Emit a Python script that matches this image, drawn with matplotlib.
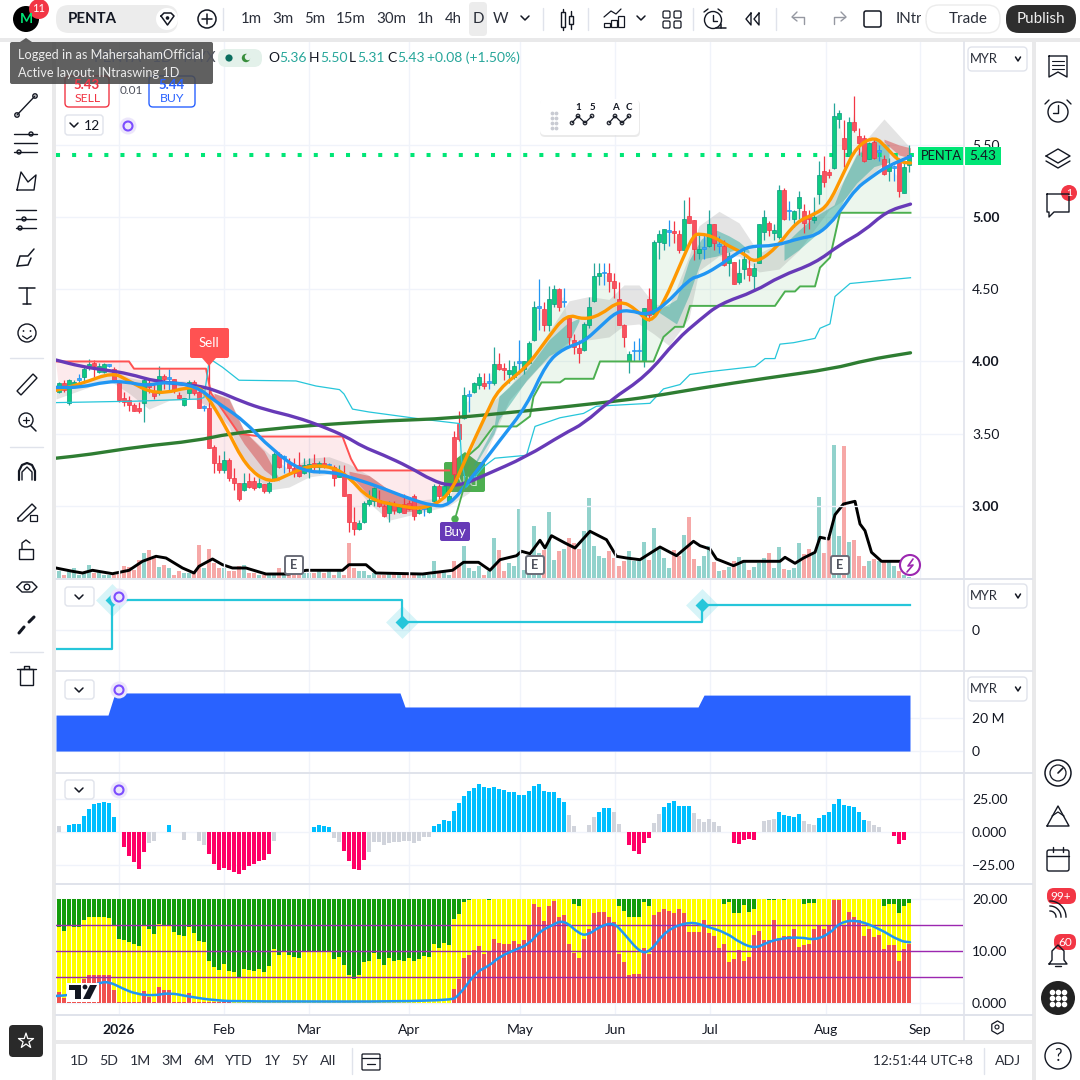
#!/usr/bin/env python3
"""PENTA daily chart, TradingView style, five panes plus the app chrome."""

import numpy as np
import matplotlib
matplotlib.use("Agg")
import matplotlib.pyplot as plt
from matplotlib.patches import FancyBboxPatch, Circle, Polygon, Rectangle, PathPatch
from matplotlib.path import Path

plt.rcParams["font.family"] = ["Lato", "Noto Sans", "DejaVu Sans"]

# candles, one row per ten bars
opens = [3.79,3.85,3.71,3.83,3.87,3.89,3.97,3.99,3.93,3.93,
         3.97,3.95,3.85,3.75,3.73,3.70,3.68,3.71,3.85,3.79,
         3.78,3.90,3.88,3.88,3.77,3.70,3.78,3.86,3.79,3.68,
         3.68,3.41,3.30,3.25,3.32,3.19,3.16,3.11,3.17,3.17,
         3.13,3.15,3.10,3.18,3.36,3.33,3.30,3.26,3.28,3.23,
         3.25,3.30,3.27,3.30,3.28,3.27,3.20,3.21,3.08,2.89,
         2.84,2.89,3.01,3.03,3.04,3.00,2.95,3.01,2.96,3.01,
         3.02,3.07,2.95,2.98,2.96,3.03,3.14,3.07,3.03,3.48,
         3.57,3.61,3.76,3.79,3.84,3.85,3.85,3.85,3.98,3.95,
         3.91,3.89,3.99,3.95,3.99,4.15,4.37,4.36,4.25,4.40,
         4.50,4.41,4.30,4.15,4.09,4.08,4.25,4.42,4.59,4.61,
         4.61,4.56,4.43,4.25,4.00,4.07,4.07,4.00,4.43,4.33,
         4.83,4.82,4.90,4.90,4.88,4.77,5.01,4.98,4.75,4.78,
         4.80,4.95,4.80,4.80,4.68,4.69,4.55,4.64,4.65,4.59,
         4.68,4.90,4.96,4.89,4.86,5.19,5.04,4.99,5.06,5.04,
         5.00,4.98,5.16,5.32,5.31,5.34,5.68,5.55,5.42,5.66,
         5.56,5.55,5.40,5.52,5.45,5.40,5.32,5.34,5.39,5.17,
         5.36]
highs = [3.86,3.87,3.88,3.87,3.91,3.96,4.02,4.01,3.99,3.99,
         3.98,3.96,3.86,3.79,3.76,3.71,3.72,3.89,3.88,3.85,
         3.97,3.91,3.95,3.88,3.79,3.75,3.87,3.87,3.81,3.70,
         4.02,3.42,3.35,3.38,3.33,3.26,3.16,3.23,3.23,3.20,
         3.19,3.15,3.17,3.37,3.37,3.35,3.33,3.33,3.37,3.33,
         3.33,3.36,3.31,3.34,3.30,3.28,3.28,3.28,3.08,2.99,
         2.90,3.03,3.11,3.13,3.11,3.01,3.03,3.03,3.01,3.08,
         3.04,3.08,3.00,3.00,3.00,3.15,3.15,3.16,3.13,3.52,
         3.66,3.82,3.80,3.86,3.92,3.92,3.92,4.10,4.06,3.99,
         4.01,4.00,4.15,4.00,4.14,4.42,4.57,4.41,4.52,4.53,
         4.51,4.51,4.31,4.19,4.15,4.27,4.45,4.68,4.68,4.68,
         4.68,4.61,4.55,4.26,4.07,4.14,4.16,4.37,4.51,4.84,
         4.91,4.92,4.98,4.97,4.91,5.12,5.14,4.98,4.89,4.89,
         5.05,4.95,4.87,4.84,4.76,4.69,4.71,4.79,4.72,4.68,
         4.95,5.05,4.97,4.95,5.22,5.20,5.11,5.05,5.18,5.09,
         5.05,5.14,5.39,5.42,5.33,5.79,5.74,5.67,5.69,5.84,
         5.62,5.57,5.52,5.54,5.50,5.43,5.41,5.36,5.41,5.39,
         5.50]
lows = [3.78,3.79,3.70,3.82,3.83,3.85,3.94,3.89,3.92,3.92,
        3.96,3.87,3.72,3.69,3.66,3.66,3.64,3.58,3.78,3.74,
        3.77,3.81,3.80,3.78,3.74,3.69,3.74,3.77,3.68,3.66,
        3.40,3.23,3.23,3.23,3.17,3.11,3.03,3.10,3.12,3.11,
        3.12,3.09,3.09,3.17,3.26,3.23,3.23,3.20,3.20,3.22,
        3.19,3.25,3.23,3.26,3.26,3.14,3.20,3.07,2.82,2.80,
        2.83,2.88,3.00,3.00,2.99,2.92,2.89,2.94,2.95,2.95,
        2.97,2.90,2.94,2.93,2.95,3.01,3.05,3.06,3.03,3.15,
        3.45,3.60,3.65,3.78,3.81,3.81,3.81,3.84,3.94,3.87,
        3.85,3.88,3.91,3.91,3.98,4.14,4.22,4.21,4.21,4.38,
        4.35,4.38,4.10,4.05,3.99,4.07,4.23,4.41,4.53,4.53,
        4.48,4.44,4.25,4.10,3.92,4.00,4.01,3.96,4.28,4.33,
        4.71,4.77,4.80,4.82,4.75,4.77,4.96,4.70,4.71,4.71,
        4.79,4.77,4.75,4.66,4.59,4.54,4.54,4.57,4.56,4.49,
        4.68,4.84,4.87,4.84,4.85,4.98,4.98,4.93,4.99,4.89,
        4.92,4.96,5.09,5.21,5.27,5.33,5.62,5.35,5.42,5.59,
        5.43,5.38,5.40,5.40,5.39,5.29,5.25,5.25,5.14,5.17,
        5.31]
closes = [3.85,3.80,3.87,3.86,3.87,3.95,3.98,3.97,3.97,3.98,
          3.97,3.87,3.73,3.72,3.70,3.66,3.66,3.87,3.82,3.76,
          3.90,3.88,3.88,3.80,3.75,3.75,3.86,3.78,3.68,3.68,
          3.40,3.30,3.25,3.32,3.19,3.16,3.05,3.16,3.13,3.12,
          3.16,3.10,3.16,3.36,3.27,3.33,3.26,3.23,3.21,3.28,
          3.29,3.27,3.30,3.27,3.28,3.19,3.23,3.07,2.89,2.84,
          2.88,3.02,3.04,3.12,3.00,2.93,3.02,2.97,2.99,2.95,
          2.98,2.93,2.97,2.98,2.99,3.14,3.07,3.14,3.07,3.22,
          3.46,3.77,3.76,3.85,3.89,3.83,3.85,3.98,3.95,3.94,
          3.94,3.97,3.99,4.00,4.13,4.38,4.37,4.25,4.43,4.50,
          4.38,4.41,4.17,4.10,4.06,4.26,4.38,4.59,4.61,4.61,
          4.56,4.51,4.25,4.17,4.05,4.07,4.07,4.37,4.32,4.83,
          4.88,4.92,4.90,4.89,4.77,4.99,4.96,4.78,4.78,4.78,
          4.95,4.82,4.80,4.67,4.73,4.54,4.61,4.71,4.60,4.65,
          4.95,5.00,4.91,4.91,5.19,4.99,5.04,5.04,5.14,4.96,
          4.99,5.00,5.29,5.24,5.29,5.70,5.72,5.47,5.66,5.60,
          5.51,5.39,5.51,5.41,5.45,5.30,5.36,5.34,5.18,5.35,
          5.43]
volume = [7,3,7,10,3,5,13,5,7,3, 3,3,5,12,11,8,18,25,28,22,
          11,13,10,3,7,5,5,5,33,10, 29,15,10,10,7,7,12,13,5,5,
          3,3,3,3,10,3,3,5,7,5, 5,5,8,5,7,3,7,3,35,10,
          7,7,3,5,3,3,5,5,5,3, 3,3,3,3,3,17,7,7,3,17,
          13,32,10,7,12,3,7,40,28,7, 15,12,69,8,22,52,25,28,66,18,
          27,29,40,35,29,47,80,32,22,20, 27,20,12,17,27,17,17,36,18,50,
          29,20,10,28,22,43,61,19,12,22, 32,16,7,8,11,17,21,17,8,11,
          15,20,25,10,31,9,8,10,35,24, 29,25,81,25,41,133,42,132,36,38,
          22,12,17,19,17,16,17,12,7,3, 1]

# moving averages, read at knots: bar number and price
purple_x = [-0.6,4.4,9.4,14,19.4,27.4,31.4,36.7,41.4,47.4,52.7,57.4,60.7,64.7,70,74.7,78,81,85,93.5,
            101,105,110.2,117.5,123.5,128.2,132.2,139.2,144.2,151.2,156.2,160.9,165.5,170.3]
purple_y = [4.01,3.965,3.94,3.915,3.86,3.835,3.80,3.72,3.665,3.615,3.55,3.48,3.41,3.355,3.27,3.175,3.14,3.15,3.21,3.34,
            3.50,3.57,3.73,3.90,4.15,4.29,4.40,4.485,4.59,4.68,4.81,4.90,5.04,5.09]
ma200_x = [-0.6,6,16,27.4,34,46,56,66,78,94.2,110.2,118.2,128.2,141.5,154.9,161.5,170.3]
ma200_y = [3.33,3.355,3.41,3.45,3.50,3.545,3.57,3.59,3.605,3.66,3.72,3.755,3.815,3.885,3.95,4.01,4.06]
blue_x = [-0.6,4.4,9.4,13.4,17.4,21.4,27.4,31.4,36.7,42.7,48.7,54.7,58,63.4,70,74.7,78,82.2,88.2,93.5,97.5,
          100.9,104.9,108.2,111.5,114.2,117.5,120.9,126.2,128.2,131.5,135.5,138.2,143.2,148.2,151.2,154.2,
          156.9,159.5,162.2,165.5,170.3]
blue_y = [3.82,3.82,3.86,3.86,3.83,3.86,3.83,3.72,3.60,3.385,3.235,3.235,3.20,3.14,3.05,3.00,3.00,3.18,3.455,3.69,3.99,
          4.09,4.135,4.24,4.345,4.355,4.32,4.38,4.575,4.59,4.65,4.75,4.80,4.80,4.855,4.87,4.95,
          5.075,5.20,5.27,5.35,5.42]
orange_x = [-0.6,4.4,10.7,13.7,19.4,27.4,29.4,33.4,37.4,42.1,46.1,50.1,54.7,58,62,68,72.7,78,81.5,85.5,87.9,93.5,97.5,
            101.5,104.9,108.2,112.2,115.5,118.2,120.9,124.9,126.9,128.2,130.9,133.9,136.9,139.2,143.2,147.5,151.2,
            153.9,156.9,159.5,163.2,165.5,168.2,170.3]
orange_y = [3.80,3.845,3.925,3.87,3.765,3.835,3.775,3.545,3.27,3.155,3.22,3.28,3.27,3.20,3.045,3.00,2.975,3.06,3.34,3.64,3.81,3.96,4.15,
            4.33,4.29,4.32,4.425,4.36,4.26,4.40,4.725,4.875,4.885,4.865,4.80,4.75,4.68,4.775,4.97,5.02,
            5.085,5.305,5.49,5.56,5.48,5.38,5.375]
cyan_x = [-0.6,15.4,28,29,30.1,32.7,36,47.4,51.4,56.1,57,58.7,62,72.7,80.1,80.5,81.5,84.9,87.2,93.5,95.2,100.2,104.9,
          107.5,118.2,120.9,124.2,126.2,130.2,139.2,141.2,143.2,144.2,146.9,151.2,152.2,154.2,155.2,158.2,170.3]
cyan_y = [3.715,3.725,3.74,3.75,4.02,3.96,3.87,3.865,3.83,3.805,3.775,3.67,3.65,3.60,3.57,3.32,3.13,3.27,3.33,3.35,3.55,3.61,3.64,
          3.69,3.71,3.81,3.84,3.91,3.93,3.965,4.02,4.02,4.12,4.13,4.16,4.23,4.26,4.45,4.54,4.58]

# trend stops
stop_dn_x = [-0.6,14,15,29.4,30.4,36,40.4,56.7,58.4,59.7,78]
stop_dn_y = [4.00,4.00,3.95,3.95,3.78,3.50,3.48,3.48,3.325,3.245,3.245]
stop_up_x = [79.9,83.9,86.9,91.5,94.2,94.9,96.5,100.2,101.2,106.9,108.2,118.9,120.9,123.2,124.9,126.2,
             143.2,145.2,147.2,148.2,151.2,152.2,154.2,156.2,170.3]
stop_up_y = [3.29,3.41,3.55,3.55,3.62,3.755,3.855,3.855,3.88,3.88,4.00,4.00,4.17,4.24,4.24,4.385,
             4.385,4.485,4.485,4.52,4.52,4.65,4.72,5.03,5.03]

# cloud around the averages
grey_x = [-0.6,5,10,14,18,22,27,31,34,37,42,46,50,54,58,62,66,72,78,82,86,90,96,102,106,110,113,116,119,122,126,128,132,136,140,144,148,154,157,160,165,170]
grey_hi = [3.84,3.85,3.95,3.89,3.86,3.87,3.86,3.78,3.75,3.52,3.36,3.25,3.33,3.34,3.29,3.21,3.11,3.04,3.06,3.34,3.70,3.82,4.10,4.42,4.45,4.43,4.53,4.53,4.40,4.38,4.73,4.94,5.04,4.96,4.75,4.82,4.99,5.10,5.26,5.48,5.68,5.49]
grey_lo = [3.74,3.81,3.87,3.78,3.67,3.73,3.74,3.67,3.55,3.29,3.11,3.13,3.20,3.22,3.18,3.02,2.90,2.95,3.00,3.09,3.41,3.73,3.96,4.14,4.15,4.17,4.25,4.26,4.19,4.11,4.30,4.63,4.73,4.73,4.62,4.64,4.77,5.05,5.12,5.22,5.37,5.41]
red1_x = [31,34,37,41,44]
red1_hi = [3.78,3.74,3.52,3.38,3.19]
red1_lo = [3.76,3.60,3.43,3.25,3.17]
red2_x = [58,62,66,70,74]
red2_hi = [3.24,3.21,3.11,3.05,3.00]
red2_lo = [3.22,3.07,2.96,2.96,2.98]
red3_x = [165,168,170.3]
red3_hi = [5.54,5.50,5.48]
red3_lo = [5.52,5.43,5.41]
teal1_x = [83,87,88,93.5,98,101.5,104]
teal1_hi = [3.29,3.55,3.76,3.94,4.15,4.26,4.30]
teal1_lo = [3.27,3.50,3.60,3.87,4.04,4.10,4.28]
teal2_x = [120,123.5,126,128.5,131.5,134,136,138]
teal2_hi = [4.36,4.43,4.70,4.85,4.91,4.87,4.83,4.77]
teal2_lo = [4.34,4.26,4.46,4.71,4.73,4.76,4.78,4.75]
teal3_x = [145,148,151,155,157,159.5,163,166]
teal3_hi = [4.81,4.91,5.00,5.085,5.26,5.43,5.535,5.50]
teal3_lo = [4.70,4.775,4.865,4.98,5.12,5.235,5.35,5.38]

# black line over the volume bars
volma_x = [-0.6,2.7,4.7,6.7,10.7,14,16.7,19.4,21.4,24.7,27,28,30.7,32.7,34.7,37.4,41.4,46,49.4,56.7,58,61.4,63.4,72.7,78.7,
           80.9,83.9,86.2,88.2,91.5,92.5,94.2,96.2,97.2,98.5,101.2,103.2,106.2,109.5,111.5,113.5,116.2,120.2,123.5,126.9,
           128.2,130.2,131.5,134.9,136.9,144.2,145.2,147.2,148.9,151.2,152.2,153.9,155.2,156.9,159.2,160.2,161.2,162.5,164.5,168.2]
volma_y = [10,6.7,5,7.7,4.3,7.7,16.7,21.7,20,10,5,11.7,19,13.3,10,10,4,4,7.7,7.7,13.3,13.3,5,4,7.7,
           15.7,15.7,7.7,18.3,22.3,26.7,24.3,37.7,30,42.3,35,30,46.7,38.3,21.7,20,18.3,31,22.3,36.7,
           32.3,29,19,12.3,16.7,16.7,20.7,14.7,20,25.7,40.7,39,63.3,74,76.7,54,47.3,25.7,16.7,16.7]

# second pane: signal steps
signal_x = [-0.6,10.6,68.6,128.6,170.2]
signal_y = [-19,30,8,25,25]
signal_marks_x = [10.6,68.6,128.6]
signal_marks_y = [30,8,25]

# third pane: blue area, millions
area_x = [-0.6,9.8,11.2,68.2,69.2,127.8,129,170.2]
area_y = [21.8,21.8,35.2,35.2,26.7,26.7,33.9,33.9]

# fourth pane: histogram
hist = [4.8,0,5.5,6.3,6.3,12.4,17.7,21.5,22,23,
        22,11.6,0,-11.6,-18,-23,-28,-15,-8,-6.5,
        0,0,5.5,0,0,-5.8,0,0,-6.5,-9.6,
        -17,-24,-28.5,-27,-28.5,-30,-31.5,-28.5,-25.5,-24,
        -21.7,-21,-17,-6.5,0,0,0,0,0,0,
        0,4,5.5,4.8,4,-4.3,-7.3,-14,-21.7,-27.8,
        -28.5,-21,-15,-7.3,-7.3,-9.6,-8,-7.3,-7.3,-6.5,
        -6.5,-8,-6.5,-3.5,-3.5,4.8,6.3,9.3,8.6,16,
        22,27.5,31,33.5,36.6,34.3,33.5,34.3,32.8,32,
        30.5,30.5,28.3,28.3,31.3,35,36.6,31.3,30.5,30.5,
        26,23,13,4.8,0,0,5.5,11.6,15.4,18.4,
        18.4,15.4,6.3,0,-9.6,-14,-17,-8,-4.3,7,
        13.9,19,22,23.7,20,20,20,14.6,10,7.8,
        10,7.8,4.8,0,0,-8,-8.8,-5.8,-5,-5.8,
        0,8.6,9.4,10.1,15.4,13.1,12.4,11.6,13.9,8.6,
        6.3,5.5,10.9,13.1,15.4,21.5,25.3,20.8,20,18.6,
        15.4,9.3,8.6,5.5,4,0,0,-3.3,-8.8,-5.8,
        0]
hist_weak = [0,18,19,25,28,29,43,55,56,62,63,64,65,66,67,68,69,70,71,72,73,74,
             102,103,106,107,111,112,119,120,127,128,129,130,131,132,141,142,143,
             149,150,151,162,163,164]

# fifth pane: stacked red, yellow, green up to 20
red_top = [2,0.9,2,0.9,0.9,4.5,5.2,5.2,5.2,5.2,
           5.2,2.4,.1,.1,.1,.1,.1,2.2,1,.1,
           3,2.4,2.4,.1,.1,.1,1.8,.1,.1,.1,
           .1,.1,.1,.1,.1,0,0,0,0,0,
           0,0,0,0,0,0,0,0,0,0, 0,0,0,0,0,0,0,0,0,0,
           0,0,0,0,0,0,0,0,0,0, 0,0,0,0,0,0,0,0,0,2.6,
           4.5,8.6,9.2,10.1,10.9,9.4,9.7,12.2,11.4,11.3,
           11.3,11.8,11.3,12,14.7,19,18.4,15.6,18.6,19.6,
           16.5,16.9,11.3,9.6,8.6,12.2,14.1,17.3,17.5,17.5,
           16.4,15.4,9.4,7.7,5.2,5.4,5.4,10.5,9.4,16.9,
           17.5,18,17.7,17.3,17.9,17.3,13.5,13.5,13.5,15.8,
           13.3,12.8,10.5,11.3,7.7,8.4,10.1,8,8.8,13,
           13.7,12,12,15.8,12.4,12.8,12.8,14.1,10.7,11.1,
           11.3,14.1,15,14.1,15,19.7,19.7,15,17.5,16.4,
           15.8,12.8,14.1,12.6,13,10.3,11.1,11.1,8,10.3,
           11.3]
yellow_top = [14.5,13.7,14.8,14.5,14.5,15.9,16.5,16.5,16.4,16.4,
              16.2,14.7,12.2,12,11.6,11.3,10.9,14.7,14.1,13.1,
              15.2,15,15,13.5,13,12.8,14.5,13.3,11.8,11.6,
              8,6.9,6.2,7.5,6,5.8,4.7,6.4,6.2,6,
              6.5,5.8,7.1,10.3,9.2,9.9,9.2,8.8,8.6,9.9,
              9.9,9.9,9.9,9.9,9.7,8.4,8.8,7.3,5.2,4.5,
              5.2,7.7,8,9.6,8.4,7.3,8.6,8,8.2,8,
              8.6,7.9,8.4,9,8.8,11.3,10.5,11.4,11.1,16,
              17.1,19.4,19.7,20,20,20,19.7,20,20,20,
              20,20,20,20,20,20,20,20,20,20,
              20,20,20,19,18.6,20,20,20,20,20,
              20,20,18.6,17.7,16.5,16.5,16.5,19.4,18.6,20,
              20,20,20,20,20,20,20,20,20,20,
              20,20,20,19,19.4,17.3,17.3,18.8,17.5,18,
              20,20,19.7,19.7,20,19.7,20,20,20,19,
              19.2,19.2,20,20,20,20,20,20,20,20,
              20,20,20,20,20,18.6,19,19,17.3,18.6,
              19.2]
band_levels = [5, 10, 15]
flow_x = [-0.6,2.4,5.4,8.1,10.1,12.7,15.4,19,22,26,31.4,36.7,78.1,80.1,83.4,86.1,88.2,91.5,93.9,96.2,98.2,100.9,104.2,105.9,
          108.2,110.9,112.9,116.2,118.2,121.5,126.2,129.5,133.5,136.2,139.2,141.5,144.2,148.2,151.2,154.2,156.2,159.5,163.9,168.2,170.2]
flow_y = [1.26,1.45,2.7,3.84,3.97,2.7,1.64,1.3,1.9,1.13,.38,.19,.19,1.45,5.85,7.1,8.87,10.25,11.2,13.7,14.65,16,13.05,13.05,
          14.65,15.4,13.4,9.6,9.75,14,15.6,14.65,13.4,11.5,10.4,11.5,12.3,12.6,12,13.3,15.4,15.9,14.3,11.8,11.6]

# time axis
month_bars = [12, 33, 50, 70, 92.3, 111.3, 130.3, 153.4, 172.2]
month_labels = ["2026", "Feb", "Mar", "Apr", "May", "Jun", "Jul", "Aug", "Sep"]
price_ticks = [3.0, 3.5, 4.0, 4.5, 5.0, 5.5]
ranges = ["1D", "5D", "1M", "3M", "6M", "YTD", "1Y", "5Y", "All"]
intervals = ["1m", "3m", "5m", "15m", "30m", "1h", "4h", "D", "W"]

GRID = "#f0f3fa"
SEP = "#e0e3eb"
INK = "#131722"
UP_WICK, DN_WICK, UP_BODY, DN_BODY = "#26a69a", "#f23645", "#0ecb81", "#f7525f"

fig = plt.figure(figsize=(10.8, 10.8), dpi=100, facecolor="#e9e9ea")
xs = np.arange(len(closes))
XMIN, XMAX = -0.6, 180.8


def pane(top, bottom, ymin, ymax, z=2):
    ax = fig.add_axes([56 / 1080, 1 - bottom / 1080, (963 - 56) / 1080, (bottom - top) / 1080], zorder=z)
    ax.set_xlim(XMIN, XMAX)
    ax.set_ylim(ymin, ymax)
    ax.patch.set_alpha(0)
    for s in ax.spines.values():
        s.set_visible(False)
    ax.set_xticks(month_bars)
    ax.tick_params(axis="x", length=0, labelbottom=False)
    ax.yaxis.tick_right()
    ax.tick_params(axis="y", length=0, pad=6.5, labelsize=10, labelcolor=INK)
    ax.grid(True, color=GRID, lw=1)
    ax.set_axisbelow(True)
    return ax


def smooth(ax, x, y, color, lw, zorder):
    # quadratic curve through the knot midpoints, the knots stay as control points
    pts = np.column_stack([x, y])
    mids = (pts[:-1] + pts[1:]) / 2
    verts = [pts[0], mids[0]]
    codes = [Path.MOVETO, Path.LINETO]
    for k in range(1, len(pts) - 1):
        verts += [pts[k], mids[k]]
        codes += [Path.CURVE3, Path.CURVE3]
    verts.append(pts[-1])
    codes.append(Path.LINETO)
    ax.add_patch(PathPatch(Path(verts, codes), fc="none", ec=color, lw=lw, zorder=zorder, capstyle="round"))


bg = fig.add_axes([0, 0, 1, 1], zorder=0)
ui = fig.add_axes([0, 0, 1, 1], zorder=10)
for a in (bg, ui):
    a.set_xlim(0, 1080)
    a.set_ylim(1080, 0)
    a.axis("off")
ui.patch.set_alpha(0)
PX = ui.transData


def rrect(a, x0, y0, x1, y1, r=4, fc="white", ec="none", lw=1, **kw):
    p = FancyBboxPatch((x0 + r, y0 + r), x1 - x0 - 2 * r, y1 - y0 - 2 * r, boxstyle=f"round,pad={r}",
                       fc=fc, ec=ec, lw=lw, transform=PX, clip_on=False, **kw)
    a.add_patch(p)
    return p


def txt(x, y, s, size=10, color=INK, ha="center", weight="normal", **kw):
    ui.text(x, y, s, fontsize=size, color=color, ha=ha, va="center", fontweight=weight, **kw)


def seg(*pts, color=INK, lw=1.0):
    ui.plot([p[0] for p in pts], [p[1] for p in pts], color=color, lw=lw, solid_capstyle="round")


def ring(x, y, r, ec=INK, fc="none", lw=1.0):
    ui.add_patch(Circle((x, y), r, fc=fc, ec=ec, lw=lw))


def chevron(x, y, w=4, color=INK):
    seg((x - w, y - 2), (x, y + 2), (x + w, y - 2), color=color, lw=1.1)


def refresh(x, y):
    ring(x, y, 8.5, ec="none", fc="#ece6fb")
    ring(x, y, 4.5, ec="#7c4dff", lw=1.5)


# white panels
bg.add_patch(Rectangle((56, 42), 976, 998, fc="white", ec="none"))
bg.add_patch(Rectangle((0, 0), 1080, 38, fc="white", ec="none"))
bg.add_patch(Rectangle((0, 42), 52, 1038, fc="white", ec="none"))
bg.add_patch(Rectangle((1036, 42), 44, 1038, fc="white", ec="none"))
bg.add_patch(Rectangle((56, 1044), 976, 36, fc="white", ec="none"))

# main pane, volume under the candles
vol = pane(42, 578, 0, 536, z=1)
vol.set_yticks([])
vol.set_xticks([])
vol_col = ["#26a69a" if c >= o else "#ef5350" for o, c in zip(opens, closes)]
vol.bar(xs, volume, width=0.8, color=vol_col, alpha=0.5, lw=0)
vol.plot(volma_x, volma_y, color="black", lw=2.1, solid_joinstyle="round")

ax = pane(42, 578, 2.50, 6.213)
ax.set_yticks(price_ticks)
ax.set_yticklabels([f"{p:.2f}" for p in price_ticks])
for lab, p in zip(ax.get_yticklabels(), price_ticks):
    if p in (3.0, 4.0, 5.0):
        lab.set_fontweight("bold")

mid = [(h + l) / 2 for h, l in zip(highs, lows)]
ax.fill(list(stop_dn_x) + list(xs[:79][::-1]), list(stop_dn_y) + mid[:79][::-1], color="#f23645", alpha=0.1, lw=0, zorder=1)
ax.fill(list(stop_up_x) + list(xs[80:][::-1]), list(stop_up_y) + mid[80:][::-1], color="#4caf50", alpha=0.1, lw=0, zorder=1)

# Buy box sits under the candles
rrect(ax, 444, 462, 485, 492, r=2, fc="#4caf50", zorder=1.3)
ax.add_patch(Polygon([(452, 462), (465, 452), (478, 462)], fc="#4caf50", ec="none", transform=PX, zorder=1.3, clip_on=False))
ax.text(464, 478, "Buy", transform=PX, color="#cfe9d0", fontsize=10, ha="center", va="center", rotation=180, zorder=1.35)

ax.fill_between(grey_x, grey_lo, grey_hi, color="#787878", alpha=0.2, lw=0, zorder=1.5)
for bx, bh, bl in ((red1_x, red1_hi, red1_lo), (red2_x, red2_hi, red2_lo), (red3_x, red3_hi, red3_lo)):
    ax.fill_between(bx, bl, bh, color="#d84a4a", alpha=0.5, lw=0, zorder=1.6)
for bx, bh, bl in ((teal1_x, teal1_hi, teal1_lo), (teal2_x, teal2_hi, teal2_lo), (teal3_x, teal3_hi, teal3_lo)):
    ax.fill_between(bx, bl, bh, color="#26a69a", alpha=0.45, lw=0, zorder=1.6)

ax.plot([XMIN, 172], [closes[-1]] * 2, color="#00e676", lw=2.9, ls=(0, (1, 3)), dash_capstyle="butt", zorder=1.8)

# candles
for i in xs:
    o, h, l, c = opens[i], highs[i], lows[i], closes[i]
    if c == o:
        wick, body, edge = "#2196f3", "#42a5f5", "#2196f3"
    elif c > o:
        wick, body, edge = UP_WICK, UP_BODY, "#089981"
    else:
        wick, body, edge = DN_WICK, DN_BODY, DN_WICK
    ax.vlines(i, l, h, color=wick, lw=0.9, zorder=3)
    ax.bar(i, max(abs(c - o), 0.012), bottom=min(o, c), width=0.62, color=body, edgecolor=edge, lw=0.5, zorder=3.2)

ax.plot(stop_dn_x, stop_dn_y, color="#ff5252", lw=1.4, zorder=4)
ax.plot(stop_up_x, stop_up_y, color="#4caf50", lw=1.4, zorder=4)
ax.plot(cyan_x, cyan_y, color="#26c6da", lw=0.9, zorder=4)
smooth(ax, ma200_x, ma200_y, "#2e7d32", 2.4, 4.5)
smooth(ax, purple_x, purple_y, "#673ab7", 2.4, 4.6)
smooth(ax, orange_x, orange_y, "#ff9800", 2.4, 4.7)
smooth(ax, blue_x, blue_y, "#2196f3", 2.4, 4.8)

# second pane
p2 = pane(580, 670, -40, 50)
p2.set_yticks([0])
p2.set_yticklabels(["0"])
p2.plot(signal_x, signal_y, drawstyle="steps-post", color="#26c6da", lw=1.6)
p2.scatter(signal_marks_x, signal_marks_y, marker="D", s=280, color="#26c6da", alpha=0.18, lw=0, clip_on=False)
p2.scatter(signal_marks_x, signal_marks_y, marker="D", s=50, color="#26c6da", lw=0)

# third pane
p3 = pane(672, 772, -12.7, 47.9)
p3.set_yticks([0, 20])
p3.set_yticklabels(["0", "20 M"])
p3.fill_between(area_x, 0, area_y, color="#2962ff", lw=0)

# fourth pane
p4 = pane(773, 883, -38.6, 44.7)
p4.set_yticks([-25, 0, 25])
p4.set_yticklabels(["\u221225.00", "0.000", "25.00"])
hist_col = ["#d1d4dc" if i in hist_weak else ("#00bfff" if v > 0 else "#ff0066") for i, v in enumerate(hist)]
p4.bar(xs, hist, width=0.8, color=hist_col, lw=0)

# fifth pane
p5 = pane(884, 1015, -2.4, 22.8)
p5.set_yticks([0, 10, 20])
p5.set_yticklabels(["0.000", "10.00", "20.00"])
p5.bar(xs, [20 - y for y in yellow_top], bottom=yellow_top, width=0.8, color="#149c0a", lw=0)
p5.bar(xs, [y - r for y, r in zip(yellow_top, red_top)], bottom=red_top, width=0.8, color="#ffff00", lw=0)
p5.bar(xs, red_top, width=0.8, color="#f0524f", lw=0)
for lv in band_levels:
    p5.axhline(lv, color="#9c27b0", lw=1.0)
smooth(p5, flow_x, flow_y, "#2196f3", 1.8, 5)
p5.tick_params(axis="x", labelbottom=True, pad=6.5, labelsize=10, labelcolor=INK)
p5.set_xticklabels(month_labels)
p5.get_xticklabels()[0].set_fontweight("bold")

# pane separators and price scale edge
for y in (579, 671, 772.5, 883.5, 1015):
    seg((56, y), (1032, y), color=SEP, lw=1.4)
seg((963.5, 42), (963.5, 1040), color=SEP, lw=1.2)

# price tag, markers in the main pane
ui.add_patch(Rectangle((918, 147), 83, 18, fc="#00e676", ec="none"))
seg((963.5, 147), (963.5, 165), color="white", lw=0.8)
txt(941, 156, "PENTA", size=9.3)
txt(983, 156, "5.43", size=9.8)
rrect(ui, 190, 328, 229, 358, r=2, fc="#ff5252")
ui.add_patch(Polygon([(202, 358), (209, 366), (216, 358)], fc="#ff5252", ec="none"))
txt(209, 343, "Sell", size=9.5, color="white")
seg((455, 519), (470, 466), color="#4caf50", lw=1.3)
ring(455, 519, 3, ec="#4caf50", fc="#4caf50")
rrect(ui, 440, 522, 470, 541, r=2, fc="#673ab7")
txt(455, 532, "Buy", size=9.5, color="white")
for x in (294, 535, 840):
    rrect(ui, x - 9, 556, x + 9, 574, r=2, fc="white", ec="#6a6d78", lw=1.4)
    txt(x, 565, "E", size=9, color="#50535e", weight="bold")
ring(910, 565, 10, ec="#9c27b0", fc="white", lw=1.5)
seg((913, 559), (908, 566), (913, 565), (907, 572), color="#9c27b0", lw=1.2)

# chart header
txt(155, 58, "PENTA \u00b7 1D \u00b7 MYX", size=10.5, color="#50535e")
rrect(ui, 218, 49, 262, 67, r=8, fc="#e3f1ea")
ring(229, 58, 3.6, ec="none", fc="#0b6e5f")
ring(246, 58, 4.2, ec="none", fc="#388e3c")
ring(248, 57, 3.2, ec="none", fc="#e3f1ea")
for lab, val, x, w1 in (("O", "5.36", 268, 11), ("H", "5.50", 309, 11), ("L", "5.31", 349, 8), ("C", "5.43", 387, 10)):
    txt(x, 58, lab, size=10, ha="left")
    txt(x + w1, 58, val, size=10, color="#26a69a", ha="left")
txt(427, 58, "+0.08 (+1.50%)", size=10, color="#26a69a", ha="left")

rrect(ui, 65, 76, 109, 107, r=4, fc="white", ec="#f23645")
txt(87, 85, "5.43", size=9.5, color="#f23645", weight="bold")
txt(88, 98, "SELL", size=8.8, color="#f23645")
txt(131, 91, "0.01", size=8.5, color="#50535e")
rrect(ui, 149, 76, 195, 107, r=4, fc="white", ec="#2962ff")
txt(172, 85, "5.44", size=9.5, color="#2962ff", weight="bold")
txt(172, 98, "BUY", size=8.8, color="#2962ff")
rrect(ui, 65, 115, 103, 135, r=3, fc="white", ec=SEP)
chevron(74, 125)
txt(92, 126, "12", size=10)
refresh(128, 126)

# tooltip over the header
rrect(ui, 10, 42, 213, 84, r=2, fc="#4a4a4a", alpha=0.88)
ui.add_patch(Polygon([(20, 42), (26, 38), (32, 42)], fc="#4a4a4a", ec="none", alpha=0.88))
txt(18, 55, "Logged in as MahersahamOfficial", size=9.2, color="#ececec", ha="left")
txt(18, 73, "Active layout: INtraswing 1D", size=9.2, color="#ececec", ha="left")

# floating tool strip
rrect(ui, 540, 100, 640, 137, r=5, fc="#dddddd", alpha=0.6)
rrect(ui, 540, 99, 639, 135, r=5, fc="white")
ui.scatter([552, 556] * 4, [113, 113, 118, 118, 123, 123, 128, 128], s=3, color="#c9cbd3")
for x0, a_, b_ in ((570, "1", "5"), (607, "A", "C")):
    seg((x0 + 2, 123), (x0 + 8, 116), (x0 + 15, 123), (x0 + 22, 116), lw=0.9)
    for dx, dy in ((2, 123), (8, 116), (15, 123), (22, 116)):
        ring(x0 + dx, dy, 1.8, fc="white", lw=0.8)
    txt(x0 + 8, 108, a_, size=7, weight="bold")
    txt(x0 + 22, 108, b_, size=7, weight="bold")

# pane controls
for y in (597, 690, 790):
    rrect(ui, 65, y - 10, 94, y + 9, r=3, fc="white", ec=SEP)
    chevron(79, y)
    refresh(119, y)
for y in (59, 596, 689):
    rrect(ui, 968, y - 12, 1027, y + 12, r=4, fc="white", ec=SEP)
    txt(970, y, "MYR", size=9.3, ha="left", color="#2a2e39")
    chevron(1018, y, w=2.5)

# TradingView mark
ui.add_patch(Rectangle((67, 983), 32, 19, fc="white", ec="none"))
ui.add_patch(Polygon([(69, 985), (81, 985), (81, 999), (75, 999), (75, 990), (69, 990)], fc="#131722", ec="none"))
ring(85, 987, 2.4, ec="none", fc="#131722")
ui.add_patch(Polygon([(90, 985), (97, 985), (90, 999), (83, 999)], fc="#131722", ec="none"))

# top bar
ring(26, 19, 13, ec="none", fc="black")
txt(26, 19, "M", size=10, color="#00e676", weight="bold")
ring(39, 9, 10, ec="none", fc="#f23645")
txt(39, 9, "11", size=8, color="white")
rrect(ui, 56, 5, 178, 33, r=13, fc="#ececec")
txt(68, 19, "PENTA", size=10.8, ha="left", weight="bold")
ring(167, 19, 11, ec="none", fc="white")
seg((161, 16), (164, 13), (171, 13), (174, 16), (167.5, 25), (161, 16), lw=1.1)
ring(167.5, 18, 1.8, ec="none", fc=INK)
ring(207, 19, 9, lw=1.1)
seg((202, 19), (212, 19), lw=1.1)
seg((207, 14), (207, 24), lw=1.1)
seg((223, 8), (223, 30), color=SEP)
rrect(ui, 469, 2, 487, 36, r=4, fc="#ececec")
for lab, x in zip(intervals, (251, 283, 315, 351, 391, 425, 453, 478, 501)):
    txt(x, 19, lab, size=10.8, color="#2a2e39")
chevron(525, 18)
for x in (543, 588, 693, 776):
    seg((x, 8), (x, 30), color=SEP)
# candle icon
ui.add_patch(Rectangle((561, 12), 4, 15, fc="white", ec=INK, lw=1))
seg((563, 9), (563, 12))
seg((563, 27), (563, 30))
ui.add_patch(Rectangle((569, 16), 4, 8, fc="white", ec=INK, lw=1))
seg((571, 11), (571, 16))
seg((571, 24), (571, 29))
# indicators icon
for bx, by in ((604, 23), (611, 20), (618, 16)):
    ui.add_patch(Rectangle((bx, by), 6, 27 - by, fc="white", ec=INK, lw=0.9))
seg((604, 17), (611, 11), (616, 14), (621, 9), lw=0.9)
chevron(641, 18)
for gx, gy in ((663, 11), (663, 21), (674, 11), (674, 21)):
    rrect(ui, gx, gy, gx + 7, gy + 7, r=1.5, fc="white", ec=INK, lw=0.9)
# alert icon
ring(713, 20, 8.5, lw=1)
seg((713, 15), (713, 21), (717, 21), lw=1)
seg((704, 12), (708, 9), lw=1)
seg((718, 9), (722, 12), lw=1)
seg((721, 24), (721, 28), lw=1.1)
seg((716, 28), (726, 28), lw=1.1)
seg((751, 13), (746, 19), (751, 25), (751, 13), lw=1)
seg((759, 13), (754, 19), (759, 25), (759, 13), lw=1)
seg((797, 12), (792, 17), (797, 21), color="#9598a1")
seg((793, 17), (804, 17), (804, 24), color="#9598a1")
seg((841, 12), (846, 17), (841, 21), color="#9598a1")
seg((845, 17), (834, 17), (834, 24), color="#9598a1")
rrect(ui, 864, 11, 881, 27, r=2, fc="white", ec=INK, lw=1.1)
txt(896, 19, "INtra", size=10.8, color="#2a2e39", ha="left")
ui.add_patch(Rectangle((921, 8), 5, 22, fc="white", ec="none", zorder=5))
rrect(ui, 926, 5, 1000, 33, r=13, fc="white", ec="#ececec", zorder=6)
txt(968, 19, "Trade", size=11, color="#2a2e39", zorder=7)
rrect(ui, 1006, 5, 1076, 33, r=13, fc="#2e2e2e")
txt(1041, 19, "Publish", size=11, color="#f0f0f0")

# left toolbar
seg((17, 115), (35, 96), lw=1)
ring(17, 115, 2.2, fc="white")
ring(35, 96, 2.2, fc="white")
for y in (134, 143, 152):
    seg((14, y), (37, y), lw=1)
ring(31, 134, 2, fc="white")
ring(19, 152, 2, fc="white")
seg((17, 190), (21, 172), (28, 182), (36, 175), (34, 190), (17, 190), lw=1)
for y in (210, 219, 228):
    seg((16, y), (36, y), lw=1)
ring(20, 228, 2, fc="white")
ring(24, 219, 2, fc="white")
seg((17, 266), (20, 256), (28, 256), (34, 249), lw=1.1)
seg((17, 266), (28, 265), (31, 258), lw=1.1)
seg((19, 288), (35, 288), lw=1.1)
seg((27, 288), (27, 304), lw=1.1)
seg((23, 304), (31, 304), lw=1.1)
ring(27, 333, 9, lw=1)
ring(23.5, 331, 0.9, ec="none", fc=INK)
ring(30.5, 331, 0.9, ec="none", fc=INK)
seg((22.5, 336), (27, 339), (31.5, 336), lw=0.9)
seg((10, 358), (43, 358), color=SEP)
ui.add_patch(Polygon([(17, 391), (33, 374), (37, 378), (21, 395)], fc="white", ec=INK, lw=1))
ring(26, 420, 7, lw=1)
seg((31, 426), (36, 431), lw=1.1)
seg((23, 420), (29, 420), lw=0.9)
seg((26, 417), (26, 423), lw=0.9)
seg((10, 447), (43, 447), color=SEP)
seg((19, 480), (19, 471), (22, 465), (27, 463), (32, 465), (35, 471), (35, 480), lw=1.6)
seg((22, 480), (22, 472), (27, 467), (32, 472), (32, 480), lw=1)
seg((18, 518), (32, 504), (36, 508), (22, 521), (18, 521), (18, 518), lw=1)
ui.add_patch(Rectangle((30, 515), 7, 6, fc="white", ec=INK, lw=0.9))
ui.add_patch(Rectangle((19, 549), 14, 10, fc="white", ec=INK, lw=1))
seg((22, 549), (22, 543), (26, 540), (30, 543), lw=1)
seg((17, 587), (22, 582), (32, 582), (37, 587), (32, 592), (22, 592), (17, 587), lw=1)
ring(27, 587, 2.8, lw=1)
seg((19, 633), (24, 627), lw=2.2)
seg((29, 622), (34, 617), lw=2.2)
seg((23, 621), (30, 628), color="white", lw=1)
seg((10, 652), (43, 652), color=SEP)
seg((17, 669), (36, 669), lw=1)
ui.add_patch(Rectangle((20, 669), 13, 16, fc="white", ec=INK, lw=1))
seg((24, 669), (24, 666), (29, 666), (29, 669), lw=1)
rrect(ui, 9, 1025, 43, 1057, r=4, fc="#2a2a2a")
ui.scatter([26], [1041], marker="*", s=130, facecolor="none", edgecolor="white", lw=0.9, zorder=12)

# right toolbar
X = 1058
seg((X - 9, 56), (X + 9, 56), (X + 9, 77), (X, 72), (X - 9, 77), (X - 9, 56), lw=1)
for y in (61, 65, 69):
    seg((X - 6, y), (X + 6, y), lw=0.8)
ring(X, 112, 10, lw=1)
seg((X, 105), (X, 113), (X - 5, 113), lw=1)
seg((X - 13, 104), (X - 9, 100), lw=1)
seg((X + 9, 100), (X + 13, 104), lw=1)
seg((X - 12, 156), (X, 149), (X + 12, 156), (X, 163), (X - 12, 156), lw=1)
seg((X - 12, 161), (X, 168), (X + 12, 161), lw=1)
seg((X - 11, 194), (X + 11, 194), (X + 11, 212), (X - 4, 212), (X - 9, 217), (X - 9, 212), (X - 11, 212), (X - 11, 194), lw=1)
ring(1069, 193, 8, ec="none", fc="#f23645")
txt(1069, 193, "1", size=7.5, color="white")
ring(X, 773, 13, lw=1.1)
ring(X, 773, 8, lw=0.9)
seg((X, 773), (X + 5, 768), lw=1.2)
seg((X - 11, 826), (X, 806), (X + 11, 826), (X - 11, 826), lw=1)
seg((X - 6, 816), (X, 812), (X + 6, 816), lw=0.9)
rrect(ui, X - 11, 850, X + 11, 871, r=2, fc="white", ec=INK, lw=1)
seg((X - 11, 856), (X + 11, 856), lw=1)
seg((X - 5, 847), (X - 5, 852), lw=1)
seg((X + 5, 847), (X + 5, 852), lw=1)
for r in (6, 11, 16):
    th = np.linspace(-np.pi / 2, 0, 12)
    ui.plot(1048 + r * np.cos(th) + 2, 917 + r * np.sin(th), color=INK, lw=1)
rrect(ui, 1047, 888, 1076, 904, r=7, fc="#f23645")
txt(1061, 896, "99+", size=8.5, color="white")
seg((X - 9, 964), (X - 6, 960), (X - 6, 951), (X, 945), (X + 6, 951), (X + 6, 960), (X + 9, 964), (X - 9, 964), lw=1)
seg((X - 3, 966), (X + 3, 966), lw=1)
rrect(ui, 1054, 934, 1076, 950, r=7, fc="#f23645")
txt(1065, 942, "60", size=8.5, color="white")
ring(X, 998, 17, ec="none", fc="#222222")
ui.scatter(np.repeat([X - 6, X, X + 6], 3), [992, 998, 1004] * 3, s=9, color="white", zorder=12)
ring(X, 1056, 13, lw=1)
txt(X, 1056, "?", size=12)

# bottom bar
for lab, x in zip(ranges, (79, 109, 140, 172, 204, 239, 272, 300, 328)):
    txt(x, 1061, lab, size=10.2, color="#2a2e39")
seg((352, 1048), (352, 1074), color=SEP)
rrect(ui, 362, 1054, 380, 1070, r=1, fc="white", ec=INK, lw=0.9)
seg((362, 1058), (380, 1058), lw=0.9)
seg((367, 1064), (375, 1064), lw=0.9)
txt(973, 1061, "12:51:44 UTC+8", size=9.7, color="#2a2e39", ha="right")
seg((984, 1048), (984, 1074), color=SEP)
txt(1008, 1061, "ADJ", size=10.2, color="#2a2e39")
ui.scatter([997], [1027], marker="h", s=90, facecolor="white", edgecolor=INK, lw=0.9)
ring(997, 1027, 2, lw=0.8)

fig.savefig("out.png", dpi=100)
